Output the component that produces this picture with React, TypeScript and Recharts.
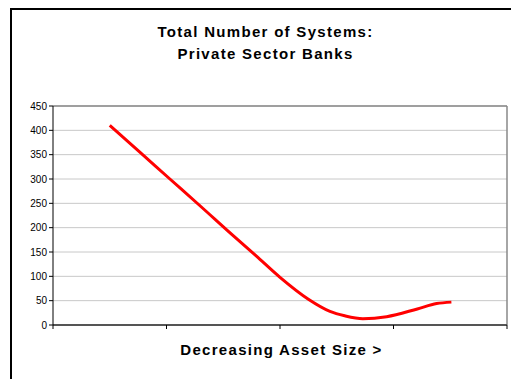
import { LineChart, Line, XAxis, YAxis, CartesianGrid, ReferenceLine } from "recharts";

// position along the asset-size axis (4 bands) and system counts
const rankPos = [0.5, 0.77, 1.03, 1.3, 1.59, 1.79, 2.0, 2.25, 2.44, 2.57, 2.73, 2.94, 3.21, 3.38, 3.51];
const systems = [410, 354, 300, 244, 183, 142, 98, 53, 28, 19, 13, 17, 33, 44, 47];
const yTicks = [0, 50, 100, 150, 200, 250, 300, 350, 400, 450];
const xTicks = [0, 1, 2, 3, 4];

const font = '"Liberation Sans", Arial, sans-serif';

export default function App() {
  const data = rankPos.map((x, i) => ({ x, systems: systems[i] }));

  return (
    <div style={{ position: "absolute", left: 0, top: 0, width: 511, height: 379, overflow: "hidden", background: "#fff", fontFamily: font }}>
      <div style={{ position: "absolute", left: 10, top: 8, width: 530, height: 400, border: "2px solid #000" }} />
      <div style={{ position: "absolute", left: 0, top: 21, width: 531, textAlign: "center", fontWeight: "bold", fontSize: 15, letterSpacing: 1.3, lineHeight: "22px", color: "#000" }}>
        Total Number of Systems:
        <br />
        Private Sector Banks
      </div>
      <div style={{ position: "absolute", left: 0, top: 341, width: 563, textAlign: "center", fontWeight: "bold", fontSize: 15, letterSpacing: 1.3, color: "#000" }}>
        Decreasing Asset Size &gt;
      </div>
      <div style={{ position: "absolute", left: 0, top: 0 }}>
        <LineChart width={511} height={379} data={data} margin={{ top: 106, right: 4, bottom: 24, left: 0 }}>
          <CartesianGrid vertical={false} stroke="#c8c8c8" />
          <XAxis
            dataKey="x"
            type="number"
            domain={[0, 4]}
            ticks={xTicks}
            height={30}
            stroke="#555"
            strokeWidth={2}
            tickSize={4}
            tickFormatter={() => ""}
            tickLine={{ stroke: "#000", strokeWidth: 1 }}
          />
          <YAxis
            domain={[0, 450]}
            ticks={yTicks}
            width={53}
            stroke="#000"
            tickSize={4}
            tick={{ fontSize: 10, fill: "#000", fontFamily: font }}
            interval={0}
          />
          <ReferenceLine y={450} stroke="#888" strokeWidth={1.5} />
          <ReferenceLine x={4} stroke="#888" strokeWidth={1.5} />
          <Line type="monotone" dataKey="systems" stroke="#ff0000" strokeWidth={3} dot={false} isAnimationActive={false} />
        </LineChart>
      </div>
    </div>
  );
}
